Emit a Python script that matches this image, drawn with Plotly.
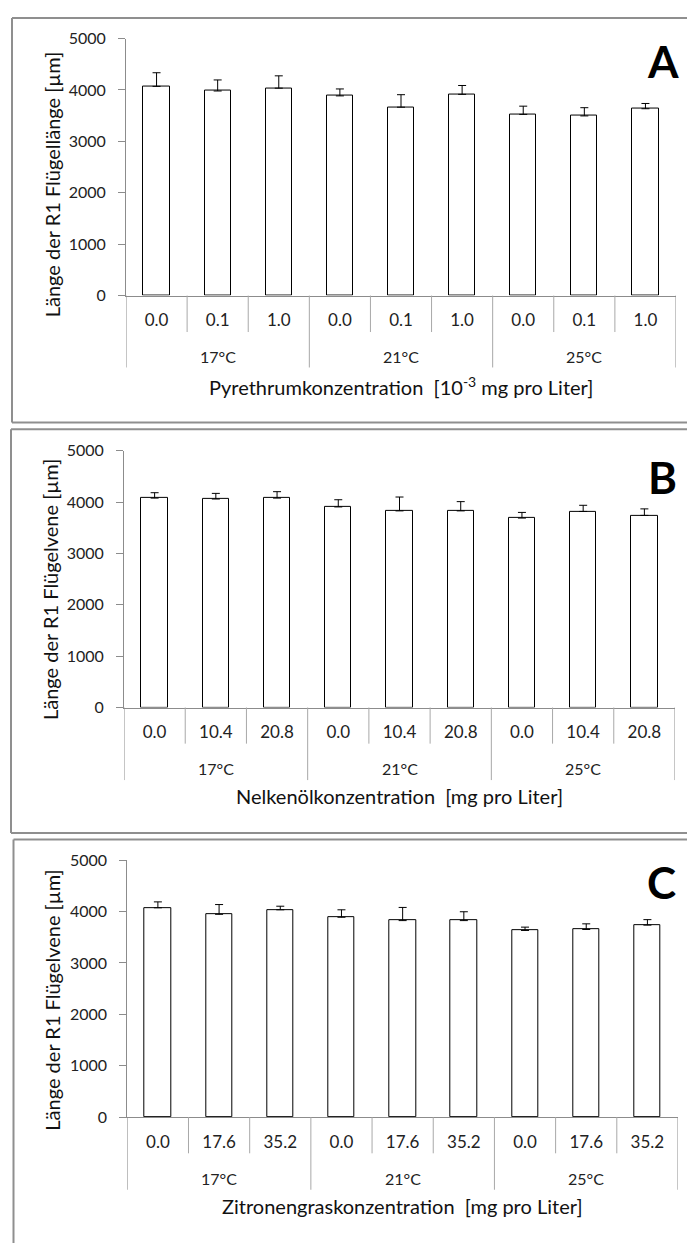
import plotly.graph_objects as go

W, H = 687, 1247

temps = ["17°C", "21°C", "25°C"]
conc_A = ["0.0", "0.1", "1.0"] * 3
conc_B = ["0.0", "10.4", "20.8"] * 3
conc_C = ["0.0", "17.6", "35.2"] * 3

mean_A = [4070, 3980, 4035, 3885, 3665, 3915, 3525, 3495, 3635]
err_A = [265, 215, 240, 135, 243, 172, 160, 160, 102]
mean_B = [4080, 4062, 4080, 3908, 3831, 3831, 3691, 3820, 3743]
err_B = [105, 110, 125, 140, 270, 180, 110, 120, 127]
mean_C = [4073, 3946, 4034, 3889, 3824, 3824, 3632, 3651, 3736]
err_C = [115, 190, 70, 145, 256, 172, 65, 110, 107]

ytitle_A = "Länge der R1 Flügellänge [µm]"
ytitle_B = "Länge der R1 Flügelvene [µm]"
ytitle_C = "Länge der R1 Flügelvene [µm]"
xtitle_A = "Pyrethrumkonzentration \u00a0[10<sup>-3</sup> mg pro Liter]"
xtitle_B = "Nelkenölkonzentration \u00a0[mg pro Liter]"
xtitle_C = "Zitronengraskonzentration \u00a0[mg pro Liter]"

FONT = "Lato"
AXC = "#8c8c8c"
SEPC = "#a8a8a8"


def px(x):
    return x / W


def py(y):
    return 1 - y / H


panels = [
    dict(conc=conc_A, mean=mean_A, err=err_A, yt=ytitle_A, xt=xtitle_A, L="A",
         x0=126, x1=676, ytop=29, ybot=290, sep=327, grp=352, gdiv=363, xtc=382,
         ytx=52, yty=177, lx=663, ly=52, box=(12, 8, 419)),
    dict(conc=conc_B, mean=mean_B, err=err_B, yt=ytitle_B, xt=xtitle_B, L="B",
         x0=124, x1=675, ytop=447.7, ybot=708.3, sep=745, grp=770, gdiv=782, xtc=798,
         ytx=50, yty=589, lx=662, ly=474, box=(11, 425.7, 835.7)),
    dict(conc=conc_C, mean=mean_C, err=err_C, yt=ytitle_C, xt=xtitle_C, L="C",
         x0=127.3, x1=678, ytop=863.3, ybot=1124.3, sep=1161, grp=1187, gdiv=1198, xtc=1215,
         ytx=52, yty=1006, lx=661, ly=885, box=(13.5, 842.3, None)),
]

fig = go.Figure()
shapes = []
annotations = []

for i, p in enumerate(panels):
    n = i + 1
    xa = "x" if n == 1 else f"x{n}"
    ya = "y" if n == 1 else f"y{n}"
    pos = list(range(len(p["conc"])))
    fig.add_trace(go.Bar(
        x=pos, y=p["mean"], xaxis=xa, yaxis=ya, width=0.43,
        marker=dict(color="white", line=dict(color="black", width=1)),
        error_y=dict(type="data", symmetric=False, array=p["err"],
                     arrayminus=[0] * len(p["err"]), color="black",
                     thickness=1, width=4),
        showlegend=False, hoverinfo="skip"))

    fig.layout[f"xaxis{'' if n == 1 else n}"] = dict(
        domain=[px(p["x0"]), px(p["x1"])], anchor=ya, range=[-0.5, len(pos) - 0.5],
        tickvals=pos, ticktext=p["conc"], ticks="", showgrid=False, zeroline=False,
        showline=True, linecolor=AXC, linewidth=1, ticklabelstandoff=9,
        tickfont=dict(family=FONT, size=17, color="#222"), fixedrange=True)
    fig.layout[f"yaxis{'' if n == 1 else n}"] = dict(
        domain=[py(p["ybot"]), py(p["ytop"])], anchor=xa, range=[0, 5000],
        dtick=1000, ticks="outside", ticklen=7, tickcolor=AXC, showgrid=False,
        zeroline=False, showline=True, linecolor=AXC, linewidth=1, ticklabelstandoff=9,
        tickfont=dict(family=FONT, size=16, color="#222"), fixedrange=True)

    for b in range(1, len(pos)):
        if b % 3 == 0:
            continue
        shapes.append(dict(type="line", xref=xa, yref="paper", x0=b - 0.5, x1=b - 0.5,
                           y0=py(p["ybot"]), y1=py(p["sep"]),
                           line=dict(color=SEPC, width=1)))
    for b in range(0, len(pos) + 1, 3):
        shapes.append(dict(type="line", xref=xa, yref="paper", x0=b - 0.5, x1=b - 0.5,
                           y0=py(p["ybot"]), y1=py(p["gdiv"]),
                           line=dict(color=SEPC if 0 < b < len(pos) else AXC, width=1)))
    for g, t in enumerate(temps):
        annotations.append(dict(text=t, xref=xa, yref="paper", x=g * 3 + 1, y=py(p["grp"]),
                                showarrow=False, xanchor="center", yanchor="middle",
                                font=dict(family=FONT, size=16, color="#222")))
    annotations.append(dict(text=p["xt"], xref="paper", yref="paper",
                            x=px((p["x0"] + p["x1"]) / 2), y=py(p["xtc"]),
                            showarrow=False, xanchor="center", yanchor="middle",
                            font=dict(family=FONT, size=20, color="#111")))
    annotations.append(dict(text=p["yt"], xref="paper", yref="paper",
                            x=px(p["ytx"]), y=py(p["yty"]), textangle=-90,
                            showarrow=False, xanchor="center", yanchor="middle",
                            font=dict(family=FONT, size=20, color="#111")))
    annotations.append(dict(text=f"<b>{p['L']}</b>", xref="paper", yref="paper",
                            x=px(p["lx"]), y=py(p["ly"]),
                            showarrow=False, xanchor="center", yanchor="middle",
                            font=dict(family=FONT, size=44, color="black")))
    bl, bt, bb = p["box"]
    bcol = dict(color="#8f8f8f", width=2)
    shapes.append(dict(type="line", xref="paper", yref="paper", x0=px(bl), x1=px(bl),
                       y0=py(bt), y1=py(bb if bb else H + 5), line=bcol))
    shapes.append(dict(type="line", xref="paper", yref="paper", x0=px(bl), x1=px(W + 5),
                       y0=py(bt), y1=py(bt), line=bcol))
    if bb:
        shapes.append(dict(type="line", xref="paper", yref="paper", x0=px(bl), x1=px(W + 5),
                           y0=py(bb), y1=py(bb), line=bcol))

fig.update_layout(width=W, height=H, margin=dict(l=0, r=0, t=0, b=0),
                  paper_bgcolor="white", plot_bgcolor="white",
                  shapes=shapes, annotations=annotations, bargap=0)

fig.write_html("out.html", config=dict(displayModeBar=False))
